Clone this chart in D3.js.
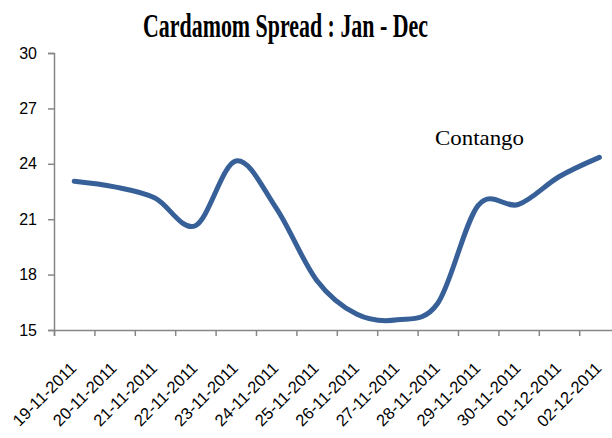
<!DOCTYPE html>
<html>
<head>
<meta charset="utf-8">
<script src="https://cdn.jsdelivr.net/npm/d3@7"></script>
<style>
  body { margin: 0; background: #fff; }
  svg { display: block; }
</style>
</head>
<body>
<div id="chart"></div>
<script>
// data
const dates = ["19-11-2011", "20-11-2011", "21-11-2011", "22-11-2011", "23-11-2011",
  "24-11-2011", "25-11-2011", "26-11-2011", "27-11-2011", "28-11-2011",
  "29-11-2011", "30-11-2011", "01-12-2011", "02-12-2011"];
const spread = [23.05, 22.75, 22.15, 20.65, 24.15, 21.6, 17.7, 15.85, 15.55, 16.45, 21.75, 21.8, 23.3, 24.35];
const yTicks = [15, 18, 21, 24, 27, 30];

const width = 612, height = 438;
const plotLeft = 54, plotTop = 53, plotBottom = 330;
const step = 40.4;

const svg = d3.select("#chart").append("svg")
    .attr("width", width)
    .attr("height", height);

const x = d3.scaleLinear().domain([0, dates.length]).range([plotLeft, plotLeft + step * dates.length]);
const y = d3.scaleLinear().domain([15, 30]).range([plotBottom, plotTop]);

// title
svg.append("text")
    .attr("x", 285.5)
    .attr("y", 37)
    .attr("text-anchor", "middle")
    .attr("font-family", "Liberation Serif")
    .attr("font-weight", "bold")
    .attr("font-size", 33)
    .attr("textLength", 285)
    .attr("lengthAdjust", "spacingAndGlyphs")
    .text("Cardamom Spread : Jan - Dec");

// y axis
const yAxis = svg.append("g")
    .attr("transform", `translate(${plotLeft},0)`)
    .call(d3.axisLeft(y).tickValues(yTicks).tickSize(6).tickPadding(11));
yAxis.selectAll("text")
    .attr("font-family", "Liberation Sans")
    .attr("font-size", 16)
    .attr("fill", "#000");

// x axis, ticks between categories
const xAxis = svg.append("g")
    .attr("transform", `translate(0,${plotBottom})`)
    .call(d3.axisBottom(x).tickValues(d3.range(dates.length + 1)).tickSize(6).tickFormat(""));

svg.selectAll(".domain, .tick line").attr("stroke", "#868686").attr("stroke-width", 1.5);

svg.append("g")
    .selectAll("text")
    .data(dates)
    .join("text")
    .attr("transform", (d, i) => `translate(${x(i + 0.5) - 5},${plotBottom + 31}) rotate(-45)`)
    .attr("text-anchor", "end")
    .attr("dy", "0.7em")
    .attr("font-family", "Liberation Sans")
    .attr("font-size", 16.5)
    .attr("fill", "#000")
    .text(d => d);

// line
const line = d3.line()
    .x((d, i) => x(i + 0.5))
    .y(d => y(d))
    .curve(d3.curveCatmullRom.alpha(0));

svg.append("path")
    .datum(spread)
    .attr("fill", "none")
    .attr("stroke", "#376098")
    .attr("stroke-width", 5)
    .attr("stroke-linecap", "round")
    .attr("stroke-linejoin", "round")
    .attr("d", line);

// annotation
svg.append("text")
    .attr("x", 435)
    .attr("y", 145)
    .attr("font-family", "Liberation Serif")
    .attr("font-size", 22)
    .attr("textLength", 89)
    .attr("lengthAdjust", "spacingAndGlyphs")
    .attr("fill", "#000")
    .text("Contango");
</script>
</body>
</html>
